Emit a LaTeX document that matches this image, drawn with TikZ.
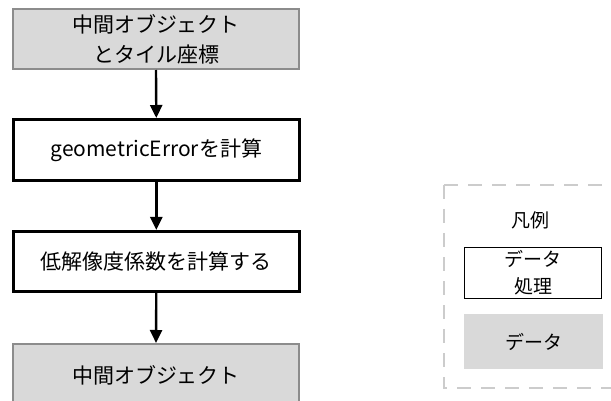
\documentclass[tikz,border=0pt]{standalone}
\usepackage{fontspec}
\setmainfont{Noto Sans CJK JP}
\usetikzlibrary{arrows.meta}
\begin{document}
\begin{tikzpicture}[x=1pt,y=-1pt,
  every node/.style={font=\fontsize{21}{30}\selectfont, align=center, inner sep=0pt},
  legendtext/.style={font=\fontsize{19}{27}\selectfont},
  databox/.style={draw=black!45, line width=2pt, fill=black!15},
  procbox/.style={draw=black, line width=2.6pt, fill=white},
  flow/.style={line width=2.4pt, -{Triangle[width=12pt,length=13pt]}},
  legendframe/.style={draw=black!20, line width=2.6pt, dash pattern=on 14pt off 10pt},
]
\useasboundingbox (0,0) rectangle (611,401);
\clip (0,0) rectangle (611,401);

% flow boxes
\node[databox, minimum width=286pt, minimum height=60pt, anchor=north west] (obj) at (12,8)
  {中間オブジェクト\\とタイル座標};
\node[procbox, minimum width=286pt, minimum height=61pt, anchor=north west] (geo) at (12,118)
  {geometricErrorを計算};
\node[procbox, minimum width=286pt, minimum height=60pt, anchor=north west] (low) at (12,230)
  {低解像度係数を計算する};
\node[databox, minimum width=286pt, minimum height=62pt, anchor=north west] (out) at (12,343)
  {中間オブジェクト};

% connectors
\draw[flow] (obj.south) -- (geo.north);
\draw[flow] (geo.south) -- (low.north);
\draw[flow] (low.south) -- (out.north);

% legend
\draw[legendframe] (444,185) -- (444,388) -- (625,388);
\draw[legendframe] (444,185) -- (625,185);
\node[legendtext] (legtitle) at (530,220) {凡例};
\node[legendtext, draw=black, line width=1pt, fill=white, minimum width=137pt, minimum height=51pt,
  anchor=north west] (legproc) at (464,247) {データ\\処理};
\node[legendtext, fill=black!15, minimum width=139pt, minimum height=55pt, anchor=north west] (legdata) at (464,314) {データ};
\end{tikzpicture}
\end{document}
